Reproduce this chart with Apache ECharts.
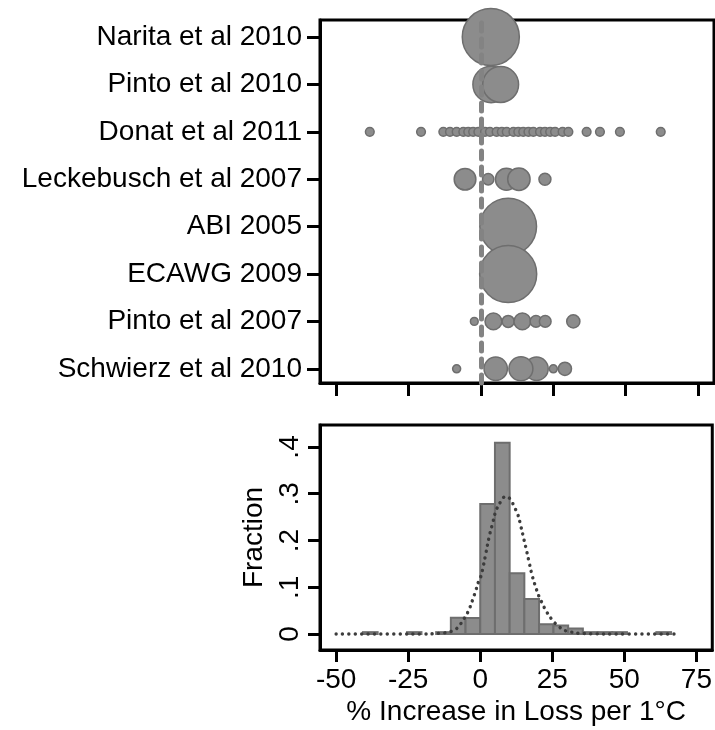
<!DOCTYPE html>
<html><head><meta charset="utf-8">
<script src="https://cdn.jsdelivr.net/npm/echarts@6/dist/echarts.min.js"></script>
<style>html,body{margin:0;padding:0;background:#fff}#c{width:715px;height:730px}</style>
</head><body><div id="c"></div>
<script>
// Studies, top to bottom
const studies = ['Narita et al 2010','Pinto et al 2010','Donat et al 2011','Leckebusch et al 2007','ABI 2005','ECAWG 2009','Pinto et al 2007','Schwierz et al 2010'];
// Estimates: [% increase per 1°C, weight]
const narita = [[3.4, 43]];
const pinto2010 = [[3.5, 17.5], [6.8, 17]];
const donat = [[-38.4,1],[-20.7,1],[-13.0,1],[-10.7,1],[-8.4,1],[-6.1,1],[-4.4,1],[-2.7,1],[-0.9,1],[1.4,1],[3.1,1],[5.4,1],[7.2,1],[8.9,1],[11.2,1],[12.9,1],[14.6,1],[16.4,1],[18.1,1],[20.4,1],[22.1,1],[23.9,1],[25.6,1],[28.2,1],[30.2,1],[36.5,1],[41.1,1],[48.0,1],[62.1,1]];
const leckebusch = [[-5.5, 6.2], [2.5, 1.7], [8.8, 6.4], [13.1, 6.6], [22.1, 1.9]];
const abi2005 = [[9.4, 42.5]];
const ecawg2009 = [[9.4, 43]];
const pinto2007 = [[-2.3, 0.8], [4.3, 3.7], [9.4, 1.9], [14.3, 3.7], [19.0, 1.8], [22.2, 1.8], [31.9, 2.3]];
const schwierz = [[-8.4, 0.85], [5.1, 7.2], [19.2, 7.2], [13.8, 7.6], [25.0, 0.85], [29.0, 2.3]];
const studyData = [narita, pinto2010, donat, leckebusch, abi2005, ecawg2009, pinto2007, schwierz];
const refLine = [0];

// Histogram bins
const binStart = [-40.7,-25.4,-15.3,-10.2,-5.1,0,5.1,10.2,15.3,20.4,25.4,30.5,35.6,40.7,45.8,61.1];
const binEnd   = [-35.6,-20.4,-10.2,-5.1,0,5.1,10.2,15.3,20.4,25.4,30.5,35.6,40.7,45.8,50.9,66.2];
const binFrac  = [0.004,0.004,0.004,0.035,0.034,0.278,0.409,0.130,0.075,0.021,0.018,0.012,0.004,0.004,0.004,0.004];

// Dotted density curve
const curveX = [-50,-30,-20,-14.2,-11.9,-9.0,-7.3,-5.5,-4.0,-2.65,-1.5,-0.6,0.2,1.15,1.96,3.1,4.3,5.4,7.1,8.9,10.6,11.75,12.9,14.1,15.2,16.0,16.9,18.1,19.2,20.4,21.5,22.7,25.0,27.3,29.0,30.8,36,50,69];
const curveY = [0,0,0,0.0014,0.003,0.0086,0.018,0.034,0.051,0.073,0.094,0.112,0.123,0.148,0.173,0.208,0.237,0.262,0.283,0.294,0.287,0.272,0.258,0.230,0.201,0.180,0.155,0.123,0.101,0.080,0.066,0.051,0.030,0.016,0.0086,0.005,0.001,0,0];

const xTicks = [-50,-25,0,25,50,75];
const fracTicks = [0,0.1,0.2,0.3,0.4];
const rowTicks = [1,2,3,4,5,6,7,8];

const FONT = 'Liberation Sans';
const FS = 28;
const black = '#000';

const bubbleData = [];
studyData.forEach((arr, i) => arr.forEach(p => bubbleData.push([p[0], 8 - i, p[1]])));

const axisLine = {show:true, onZero:false, lineStyle:{color:black, width:3}};

const option = {
  animation: false,
  backgroundColor: '#fff',
  grid: [
    {left:320, top:20, width:394, height:363, show:true, borderColor:black, borderWidth:3, backgroundColor:'#fff'},
    {left:320, top:425, width:393, height:225, show:true, borderColor:black, borderWidth:3, backgroundColor:'#fff'}
  ],
  xAxis: [
    {gridIndex:0, type:'value', min:-55.6, max:80.5, axisLine,
     axisTick:{show:true, customValues:xTicks, length:13, lineStyle:{color:black, width:3}},
     axisLabel:{show:false}, splitLine:{show:false}},
    {gridIndex:1, type:'value', min:-55.6, max:80.5, axisLine,
     axisTick:{show:true, customValues:xTicks, length:12, lineStyle:{color:black, width:3}},
     axisLabel:{show:true, customValues:xTicks, fontFamily:FONT, fontSize:FS, color:black, margin:16},
     splitLine:{show:false},
     name:'% Increase in Loss per 1°C', nameLocation:'middle', nameGap:48,
     nameTextStyle:{fontFamily:FONT, fontSize:FS, color:black}}
  ],
  yAxis: [
    {gridIndex:0, type:'value', min:0.7, max:8.36, axisLine,
     axisTick:{show:true, customValues:rowTicks, length:13, lineStyle:{color:black, width:3}},
     axisLabel:{show:true, customValues:rowTicks, fontFamily:FONT, fontSize:FS, color:black, margin:18,
       formatter: v => studies[8 - Math.round(v)]},
     splitLine:{show:false}},
    {gridIndex:1, type:'value', min:-0.0342, max:0.447, axisLine,
     axisTick:{show:true, customValues:fracTicks, length:12, lineStyle:{color:black, width:3}},
     axisLabel:{show:true, customValues:fracTicks, rotate:90, fontFamily:FONT, fontSize:FS, color:black, margin:16,
       formatter: v => (Math.abs(v) < 1e-9 ? '0' : String(Math.round(v*10)/10).replace(/^0/, ''))},
     splitLine:{show:false},
     name:'Fraction', nameLocation:'middle', nameGap:52, nameRotate:90,
     nameTextStyle:{fontFamily:FONT, fontSize:FS, color:black}}
  ],
  series: [
    {type:'scatter', xAxisIndex:0, yAxisIndex:0, data:[], z:1, silent:true,
     markLine:{silent:true, symbol:['none','none'], label:{show:false},
       lineStyle:{color:'#838383', width:5, type:[8,8], cap:'round'},
       data: refLine.map(v => ({xAxis:v}))}},
    {type:'scatter', xAxisIndex:0, yAxisIndex:0, z:3, clip:false,
     data: bubbleData,
     symbolSize: v => 8.7 * Math.sqrt(v[2]),
     itemStyle:{color:'#8c8c8c', borderColor:'#6e6e6e', borderWidth:1.5, opacity:1}},
    {type:'custom', xAxisIndex:1, yAxisIndex:1, z:2,
     data: binStart.map((s, i) => [s, binEnd[i], binFrac[i]]),
     encode:{x:[0,1], y:2},
     renderItem: (params, api) => {
       const p0 = api.coord([api.value(0), api.value(2)]);
       const p1 = api.coord([api.value(1), 0]);
       return {type:'rect', shape:{x:p0[0], y:p0[1], width:p1[0]-p0[0], height:p1[1]-p0[1]},
         style:{fill:'#8c8c8c', stroke:'#6e6e6e', lineWidth:2}};
     }},
    {type:'line', xAxisIndex:1, yAxisIndex:1, z:4, smooth:true, showSymbol:false, symbol:'none',
     data: curveX.map((x, i) => [x, curveY[i]]),
     lineStyle:{color:'#3c3c3c', width:3.4, type:[0.1, 6.3], cap:'round'}}
  ]
};
const chart = echarts.init(document.getElementById('c'));
chart.setOption(option);
</script></body></html>
